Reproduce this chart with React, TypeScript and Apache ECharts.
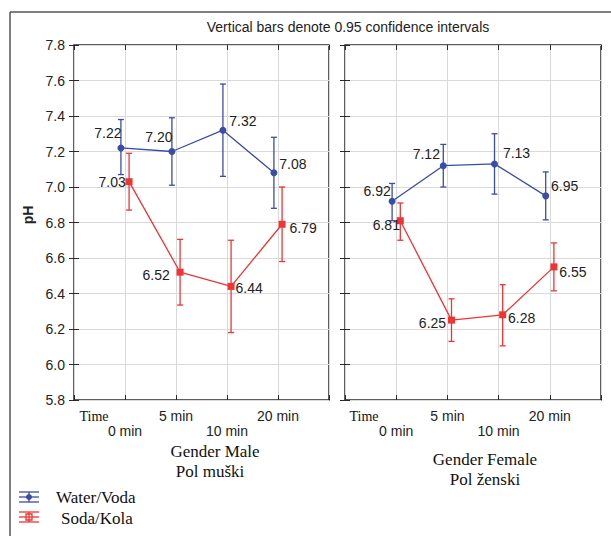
import React, { useEffect, useRef } from "react";
import * as echarts from "echarts";

// ---- data ----
const timeLabels = ["0 min", "5 min", "10 min", "20 min"];
const yTicks = { min: 5.8, max: 7.8, step: 0.2 };

const waterMale = [7.22, 7.2, 7.32, 7.08];
const waterMaleLow = [7.07, 7.01, 7.06, 6.88];
const waterMaleHigh = [7.38, 7.39, 7.58, 7.28];
const sodaMale = [7.03, 6.52, 6.44, 6.79];
const sodaMaleLow = [6.87, 6.335, 6.18, 6.58];
const sodaMaleHigh = [7.19, 6.705, 6.7, 7.0];

const waterFemale = [6.92, 7.12, 7.13, 6.95];
const waterFemaleLow = [6.81, 7.0, 6.96, 6.815];
const waterFemaleHigh = [7.02, 7.24, 7.3, 7.085];
const sodaFemale = [6.81, 6.25, 6.28, 6.55];
const sodaFemaleLow = [6.7, 6.13, 6.105, 6.415];
const sodaFemaleHigh = [6.91, 6.37, 6.45, 6.685];

// label offsets (px) relative to the point
const waterMaleLabelOff = [[-13, -15], [-13, -15], [20, -9], [19, -9]];
const sodaMaleLabelOff = [[-17, 0], [-24, 3], [18, 2], [21, 4]];
const waterFemaleLabelOff = [[-15, -10], [-17, -12], [22, -11], [19, -10]];
const sodaFemaleLabelOff = [[-14, 4], [-19, 3], [19, 3], [19, 5]];

const BLUE = "#3b4ca6";
const RED = "#f03434";
const JITTER = 0.08;

function lineSeries(name: string, vals: number[], offs: number[][], gi: number, color: string, symbol: string, dx: number) {
  return {
    type: "line",
    name,
    xAxisIndex: gi * 2,
    yAxisIndex: gi * 2,
    symbol,
    symbolSize: 7,
    z: 5,
    lineStyle: { color, width: 1.3 },
    itemStyle: { color },
    data: vals.map((v, i) => ({
      value: [i + 1 + dx, v],
      label: {
        show: true,
        position: "inside",
        offset: offs[i],
        formatter: v.toFixed(2),
        color: "#222",
        fontSize: 14,
        fontFamily: "Liberation Sans, Arial, sans-serif",
      },
    })),
  };
}

function errSeries(low: number[], high: number[], gi: number, color: string, dx: number) {
  return {
    type: "custom",
    xAxisIndex: gi * 2,
    yAxisIndex: gi * 2,
    z: 3,
    encode: { x: 0, y: [1, 2] },
    data: low.map((l, i) => [i + 1 + dx, l, high[i]]),
    renderItem: (params: any, api: any) => {
      const x = api.value(0);
      const lo = api.coord([x, api.value(1)]);
      const hi = api.coord([x, api.value(2)]);
      const cw = 3;
      const style = { stroke: color, lineWidth: 1.3 };
      return {
        type: "group",
        children: [
          { type: "line", shape: { x1: lo[0], y1: lo[1], x2: hi[0], y2: hi[1] }, style },
          { type: "line", shape: { x1: hi[0] - cw, y1: hi[1], x2: hi[0] + cw, y2: hi[1] }, style },
          { type: "line", shape: { x1: lo[0] - cw, y1: lo[1], x2: lo[0] + cw, y2: lo[1] }, style },
        ],
      };
    },
  };
}

export default function App() {
  const ref = useRef<HTMLDivElement>(null);
  useEffect(() => {
    document.body.style.margin = "0";
    const chart = echarts.init(ref.current!, null, { renderer: "svg" });
    const sans = "Liberation Sans, Arial, sans-serif";
    const serif = "Liberation Serif, Times New Roman, serif";
    const grids = [
      { left: 74, top: 45, width: 255, height: 355 },
      { left: 345, top: 45, width: 256, height: 355 },
    ].map((g) => ({ ...g, show: true, borderColor: "#2a2a2a", borderWidth: 1.5, backgroundColor: "transparent" }));

    const xAxes: any[] = [];
    const yAxes: any[] = [];
    [0, 1].forEach((gi) => {
      xAxes.push({
        type: "value",
        gridIndex: gi,
        position: "bottom",
        min: 0,
        max: 5,
        interval: 1,
        axisLine: { show: false },
        axisTick: { show: true, inside: true, length: 5, lineStyle: { color: "#2a2a2a" } },
        splitLine: { show: true, lineStyle: { color: "#d9d9d9", width: 1 } },
        axisLabel: {
          show: true,
          margin: 8,
          fontSize: 14,
          lineHeight: 15,
          color: "#222",
          fontFamily: sans,
          verticalAlign: "top",
          formatter: (v: number) => {
            const idx = Math.round(v) - 1;
            if (idx < 0 || idx >= timeLabels.length) return "";
            return idx % 2 === 0 ? "\n" + timeLabels[idx] : timeLabels[idx];
          },
        },
      });
      xAxes.push({
        type: "value",
        gridIndex: gi,
        position: "top",
        min: 0,
        max: 5,
        interval: 1,
        axisLine: { show: false },
        axisTick: { show: true, inside: true, length: 5, lineStyle: { color: "#2a2a2a" } },
        splitLine: { show: false },
        axisLabel: { show: false },
      });
      yAxes.push({
        type: "value",
        gridIndex: gi,
        position: "left",
        min: yTicks.min,
        max: yTicks.max,
        interval: yTicks.step,
        axisLine: { show: false },
        axisTick: { show: true, inside: true, length: 5, lineStyle: { color: "#2a2a2a" } },
        splitLine: { show: true, lineStyle: { color: "#d9d9d9", width: 1 } },
        axisLabel: {
          show: gi === 0,
          margin: 9,
          fontSize: 14,
          color: "#222",
          fontFamily: sans,
          formatter: (v: number) => v.toFixed(1),
        },
      });
      yAxes.push({
        type: "value",
        gridIndex: gi,
        position: "right",
        min: yTicks.min,
        max: yTicks.max,
        interval: yTicks.step,
        axisLine: { show: false },
        axisTick: { show: true, inside: true, length: 5, lineStyle: { color: "#2a2a2a" } },
        splitLine: { show: false },
        axisLabel: { show: false },
      });
    });

    const legendMark = (y: number, color: string, square: boolean) => {
      const st = { stroke: color, lineWidth: 1.3 };
      return [
        { type: "line", shape: { x1: 19, y1: y - 5, x2: 39, y2: y - 5 }, style: st },
        { type: "line", shape: { x1: 19, y1: y, x2: 39, y2: y }, style: st },
        { type: "line", shape: { x1: 19, y1: y + 5, x2: 39, y2: y + 5 }, style: st },
        { type: "line", shape: { x1: 29, y1: y - 5, x2: 29, y2: y + 5 }, style: st },
        square
          ? { type: "rect", shape: { x: 26, y: y - 3, width: 6, height: 6 }, style: { fill: "none", stroke: color, lineWidth: 1.3 } }
          : { type: "circle", shape: { cx: 29, cy: y, r: 3 }, style: { fill: color } },
      ];
    };

    const capFont = `17px ${serif}`;
    const graphic: any[] = [
      { type: "line", shape: { x1: 10, y1: 12, x2: 611, y2: 12 }, style: { stroke: "#555", lineWidth: 1.5 } },
      { type: "line", shape: { x1: 10, y1: 12, x2: 10, y2: 536 }, style: { stroke: "#555", lineWidth: 1.5 } },
      {
        type: "text",
        x: 348,
        y: 27,
        style: { text: "Vertical bars denote 0.95 confidence intervals", font: `14px ${sans}`, fill: "#222", align: "center", verticalAlign: "middle" },
      },
      {
        type: "text",
        x: 28,
        y: 215,
        rotation: Math.PI / 2,
        style: { text: "pH", font: `bold 14px ${sans}`, fill: "#222", align: "center", verticalAlign: "middle" },
      },
      { type: "text", x: 94, y: 416, style: { text: "Time", font: `14px ${serif}`, fill: "#111", align: "center", verticalAlign: "middle" } },
      { type: "text", x: 364, y: 416, style: { text: "Time", font: `14px ${serif}`, fill: "#111", align: "center", verticalAlign: "middle" } },
      { type: "text", x: 215, y: 451, style: { text: "Gender Male", font: capFont, fill: "#111", align: "center", verticalAlign: "middle" } },
      { type: "text", x: 210, y: 471, style: { text: "Pol muški", font: capFont, fill: "#111", align: "center", verticalAlign: "middle" } },
      { type: "text", x: 485, y: 459, style: { text: "Gender Female", font: capFont, fill: "#111", align: "center", verticalAlign: "middle" } },
      { type: "text", x: 485, y: 479, style: { text: "Pol ženski", font: capFont, fill: "#111", align: "center", verticalAlign: "middle" } },
      ...legendMark(497, BLUE, false),
      ...legendMark(517, RED, true),
      { type: "text", x: 56, y: 497, style: { text: "Water/Voda", font: capFont, fill: "#111", align: "left", verticalAlign: "middle" } },
      { type: "text", x: 61, y: 518, style: { text: "Soda/Kola", font: capFont, fill: "#111", align: "left", verticalAlign: "middle" } },
    ];

    chart.setOption({
      animation: false,
      backgroundColor: "#fff",
      grid: grids,
      xAxis: xAxes,
      yAxis: yAxes,
      graphic,
      series: [
        errSeries(waterMaleLow, waterMaleHigh, 0, BLUE, -JITTER),
        errSeries(sodaMaleLow, sodaMaleHigh, 0, RED, JITTER),
        errSeries(waterFemaleLow, waterFemaleHigh, 1, BLUE, -JITTER),
        errSeries(sodaFemaleLow, sodaFemaleHigh, 1, RED, JITTER),
        lineSeries("Water/Voda", waterMale, waterMaleLabelOff, 0, BLUE, "circle", -JITTER),
        lineSeries("Soda/Kola", sodaMale, sodaMaleLabelOff, 0, RED, "rect", JITTER),
        lineSeries("Water/Voda", waterFemale, waterFemaleLabelOff, 1, BLUE, "circle", -JITTER),
        lineSeries("Soda/Kola", sodaFemale, sodaFemaleLabelOff, 1, RED, "rect", JITTER),
      ],
    });
    return () => chart.dispose();
  }, []);
  return <div ref={ref} style={{ width: 611, height: 536 }} />;
}
